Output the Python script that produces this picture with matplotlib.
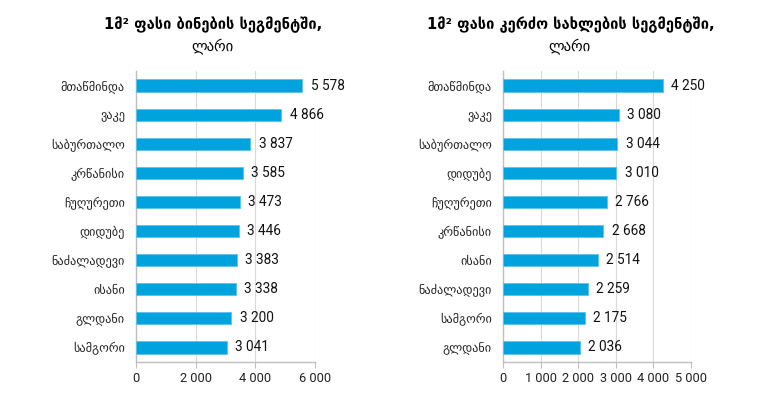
import matplotlib
matplotlib.use("Agg")
import matplotlib.pyplot as plt
from matplotlib.ticker import FuncFormatter

plt.rcParams['font.family'] = ['DejaVu Sans']
NUMFONT = ['Roboto', 'DejaVu Sans']

# Data
title_left = "1მ² ფასი ბინების სეგმენტში,"
title_right = "1მ² ფასი კერძო სახლების სეგმენტში,"
subtitle = "ლარი"

cats_left = ["მთაწმინდა", "ვაკე", "საბურთალო", "კრწანისი", "ჩუღურეთი",
             "დიდუბე", "ნაძალადევი", "ისანი", "გლდანი", "სამგორი"]
vals_left = [5578, 4866, 3837, 3585, 3473, 3446, 3383, 3338, 3200, 3041]
ticks_left = [0, 2000, 4000, 6000]

cats_right = ["მთაწმინდა", "ვაკე", "საბურთალო", "დიდუბე", "ჩუღურეთი",
              "კრწანისი", "ისანი", "ნაძალადევი", "სამგორი", "გლდანი"]
vals_right = [4250, 3080, 3044, 3010, 2766, 2668, 2514, 2259, 2175, 2036]
ticks_right = [0, 1000, 2000, 3000, 4000, 5000]

BAR = "#00A3DD"
W, H = 784, 407
fig = plt.figure(figsize=(W/100, H/100), dpi=100)

def fmt(v):
    return f"{int(v):,}".replace(",", " ")

def panel(rect, cats, vals, ticks):
    ax = fig.add_axes(rect)
    y = list(range(len(cats)))
    ax.barh(y, vals, height=0.42, color=BAR, edgecolor="#5cc3ea", linewidth=0.6, zorder=3)
    ax.set_ylim(len(cats) - 0.5, -0.5)
    ax.set_xlim(ticks[0], ticks[-1])
    ax.set_xticks(ticks)
    ax.xaxis.set_major_formatter(FuncFormatter(lambda v, p: fmt(v)))
    ax.set_yticks(y)
    ax.set_yticklabels(cats, fontsize=8.8, color="#222222")
    ax.tick_params(axis="y", length=0, pad=8)
    ax.tick_params(axis="x", length=4, color="#bfbfbf", pad=3)
    for lab in ax.get_xticklabels():
        lab.set_fontfamily(NUMFONT)
        lab.set_fontsize(9.2)
        lab.set_color("#222222")
    ax.grid(axis="x", color="#d9d9d9", linewidth=0.8, zorder=0)
    for s in ["top", "right"]:
        ax.spines[s].set_visible(False)
    for s in ["left", "bottom"]:
        ax.spines[s].set_color("#bfbfbf")
        ax.spines[s].set_linewidth(1.0)
    for yi, v in zip(y, vals):
        ax.annotate(fmt(v), (v, yi), xytext=(6, 0), textcoords="offset points",
                    va="center", ha="left", fontsize=9.8, color="#111111",
                    family=NUMFONT)
    return ax

bottom = 1 - 362/H
height = (362 - 71)/H
panel([136/W, bottom, 179/W, height], cats_left, vals_left, ticks_left)
panel([503/W, bottom, 188/W, height], cats_right, vals_right, ticks_right)

fig.text(213/W, 1 - 25/H, title_left, ha="center", va="center", fontsize=10.5, fontweight="bold")
fig.text(212/W, 1 - 46/H, subtitle, ha="center", va="center", fontsize=10.5)
fig.text(571/W, 1 - 25/H, title_right, ha="center", va="center", fontsize=10.5, fontweight="bold")
fig.text(569/W, 1 - 46/H, subtitle, ha="center", va="center", fontsize=10.5)

fig.savefig("out.png", dpi=100, facecolor="white")
